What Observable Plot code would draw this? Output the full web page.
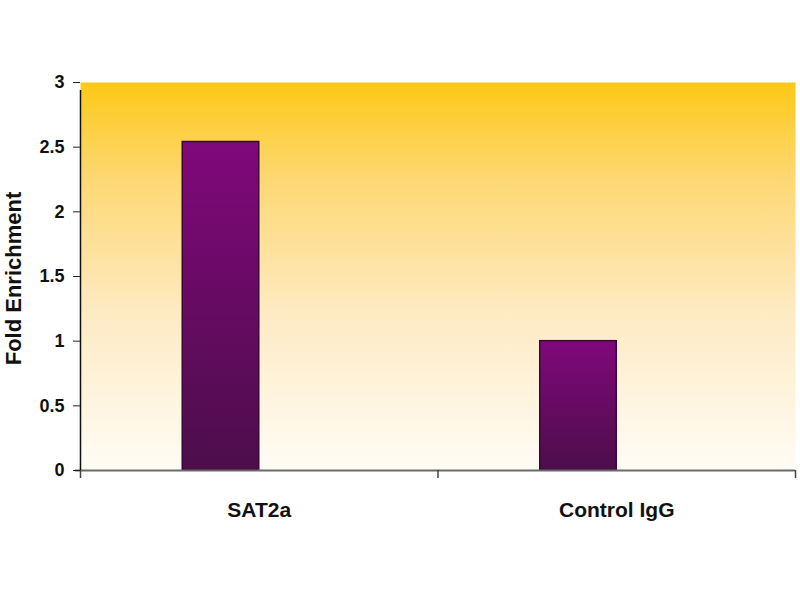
<!DOCTYPE html>
<html>
<head>
<meta charset="utf-8">
<script src="https://cdn.jsdelivr.net/npm/d3@7"></script>
<script src="https://cdn.jsdelivr.net/npm/@observablehq/plot@0.6"></script>
<style>
  html, body { margin: 0; padding: 0; background: #fff; }
  #chart svg { display: block; font-family: "Liberation Sans", Arial, sans-serif; }
</style>
</head>
<body>
<div id="chart"></div>
<script>
const categories = ["SAT2a", "Control IgG"];
const values = [2.54, 1.0];
const yTicks = [0, 0.5, 1, 1.5, 2, 2.5, 3];
const yLabel = "Fold Enrichment";

const data = categories.map((c, i) => ({ category: c, index: i, value: values[i] }));

// Bar position within each category slot (fraction of the slot)
const barStart = 0.286, barEnd = 0.5;

const defs = () => {
  const g = d3.create("svg:defs");
  const bg = g.append("linearGradient").attr("id", "bgGrad")
    .attr("x1", 0).attr("y1", 0).attr("x2", 0).attr("y2", 1);
  bg.append("stop").attr("offset", "0%").attr("stop-color", "#FDC817");
  bg.append("stop").attr("offset", "25%").attr("stop-color", "#FDD874");
  bg.append("stop").attr("offset", "60%").attr("stop-color", "#FDEBC4");
  bg.append("stop").attr("offset", "100%").attr("stop-color", "#FFFCF6");
  const bar = g.append("linearGradient").attr("id", "barGrad")
    .attr("x1", 0).attr("y1", 0).attr("x2", 0).attr("y2", 1);
  bar.append("stop").attr("offset", "0%").attr("stop-color", "#80087B");
  bar.append("stop").attr("offset", "100%").attr("stop-color", "#4C0E4A");
  return g.node();
};

const chart = Plot.plot({
  width: 800,
  height: 600,
  marginLeft: 80,
  marginRight: 5,
  marginTop: 82,
  marginBottom: 130,
  style: { fontFamily: "'Liberation Sans', Arial, sans-serif", background: "transparent" },
  x: { type: "linear", domain: [0, categories.length], axis: null },
  y: { type: "linear", domain: [0, 3], axis: null },
  marks: [
    defs,
    Plot.frame({ fill: "url(#bgGrad)", stroke: "none" }),
    // bars
    Plot.rectY(data, {
      x1: d => d.index + barStart,
      x2: d => d.index + barEnd,
      y1: 0,
      y2: "value",
      fill: "url(#barGrad)",
      stroke: "#3A0838",
      strokeWidth: 1.5
    }),
    // x axis baseline
    Plot.ruleY([0], { stroke: "#6b6b6b", strokeWidth: 2, insetLeft: -5 }),
    // x category boundary ticks
    Plot.axisX(d3.range(categories.length + 1), {
      tickSize: 8, tickFormat: () => "", stroke: "#444", strokeWidth: 1.5
    }),
    // y axis line
    Plot.ruleX([0], { y1: 0, y2: 3, stroke: "#111", strokeWidth: 1.5, insetBottom: -8 }),
    // y axis ticks & labels
    Plot.axisY(yTicks, {
      tickSize: 7, tickPadding: 9, stroke: "#222",
      fontSize: 18, fontWeight: "bold", fill: "#111",
      tickFormat: d => String(d), label: null
    }),
    // category labels
    Plot.text(data, {
      x: d => d.index + 0.5,
      y: 0,
      text: "category",
      dy: 40,
      fontSize: 21,
      fontWeight: "bold",
      fill: "#111"
    }),
    // y label
    Plot.text([yLabel], {
      frameAnchor: "left",
      textAnchor: "middle",
      text: d => d,
      rotate: -90,
      dx: -67,
      dy: 2,
      fontSize: 22,
      fontWeight: "bold",
      fill: "#111"
    })
  ]
});

document.getElementById("chart").appendChild(chart);
</script>
</body>
</html>
